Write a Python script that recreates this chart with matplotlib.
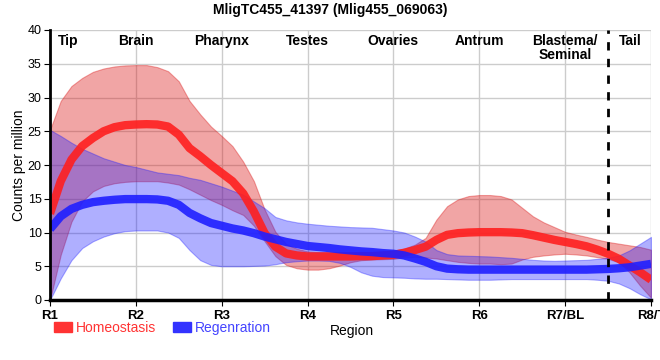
import matplotlib
matplotlib.use('Agg')
import matplotlib.pyplot as plt
from matplotlib.patches import Patch

plt.rcParams['font.family'] = ['Liberation Sans Narrow', 'Liberation Sans', 'DejaVu Sans']

title = 'MligTC455_41397 (Mlig455_069063)'
tick_labels = ['R1', 'R2', 'R3', 'R4', 'R5', 'R6', 'R7/BL', 'R8/T']
regions = ['Tip', 'Brain', 'Pharynx', 'Testes', 'Ovaries', 'Antrum', 'Blastema/\nSeminal', 'Tail']
region_x = [0.09, 1.0, 2.0, 3.0, 4.0, 5.0, 6.0, 6.76]

# sample positions along the body, every 1/8 of a region step
x = [i / 8 for i in range(57)]

# Homeostasis
hom_mean = [12.8, 17.6, 20.8, 22.8, 24.0, 25.0, 25.6, 25.9, 26.0, 26.05, 26.0, 25.7, 24.5, 22.5, 21.3,
            20.0, 18.8, 17.6, 15.8, 13.1, 9.9, 7.9, 6.9, 6.6, 6.45, 6.45, 6.45, 6.45, 6.45, 6.5,
            6.5, 6.6, 6.7, 7.0, 7.4, 7.9, 8.9, 9.65, 9.9, 10.0, 10.05, 10.05, 10.05, 10.0, 9.9,
            9.6, 9.25, 8.9, 8.6, 8.3, 7.95, 7.45, 6.85, 6.1, 5.1, 4.1, 3.0]
hom_upper = [25.2, 29.5, 31.7, 32.9, 33.8, 34.3, 34.6, 34.75, 34.8, 34.8, 34.5, 33.9, 32.4, 29.5, 27.5,
             25.7, 24.3, 22.8, 20.5, 17.6, 13.4, 10.1, 8.3, 7.6, 7.2, 7.1, 7.1, 7.1, 7.1, 7.1,
             7.1, 7.2, 7.3, 7.6, 8.2, 9.2, 11.9, 13.9, 14.9, 15.4, 15.55, 15.55, 15.4, 14.9, 13.65,
             12.4, 11.5, 10.8, 10.1, 9.7, 9.35, 8.95, 8.6, 8.35, 8.1, 7.85, 7.45]
hom_lower = [0.0, 6.7, 11.6, 14.6, 16.1, 16.9, 17.3, 17.5, 17.6, 17.6, 17.6, 17.4, 17.1, 16.4, 15.6,
             14.8, 14.1, 13.3, 12.6, 11.0, 8.7, 6.5, 5.2, 4.7, 4.5, 4.5, 4.7, 5.1, 5.6, 5.9,
             6.0, 6.05, 6.1, 6.3, 6.4, 6.3, 6.15, 5.9, 5.65, 5.5, 5.4, 5.4, 5.3, 5.4, 6.0,
             6.4, 6.6, 6.75, 6.85, 6.75, 6.6, 6.35, 6.1, 5.6, 4.1, 2.1, 0.35]

# Regenration
reg_mean = [10.5, 12.4, 13.5, 14.1, 14.5, 14.7, 14.85, 14.95, 14.95, 14.95, 14.9, 14.7, 14.1, 12.9, 12.1,
            11.4, 11.0, 10.6, 10.3, 9.9, 9.4, 9.0, 8.6, 8.3, 8.0, 7.85, 7.7, 7.5, 7.35, 7.2,
            7.1, 6.95, 6.85, 6.6, 6.15, 5.65, 5.0, 4.65, 4.55, 4.5, 4.5, 4.5, 4.5, 4.5, 4.5,
            4.5, 4.5, 4.5, 4.5, 4.5, 4.5, 4.55, 4.6, 4.7, 4.85, 5.1, 5.35]
reg_upper = [25.2, 24.3, 23.3, 22.4, 21.7, 21.0, 20.5, 20.0, 19.7, 19.3, 18.9, 18.7, 18.5, 18.1, 17.8,
             17.3, 16.8, 16.2, 15.6, 14.6, 13.6, 12.3, 11.8, 11.5, 11.3, 11.15, 11.0, 10.9, 10.8, 10.75,
             10.7, 10.5, 10.3, 10.0, 9.4, 8.65, 7.4, 6.8, 6.6, 6.55, 6.5, 6.45, 6.35, 6.25, 6.1,
             5.95, 5.85, 5.8, 5.85, 5.9, 5.95, 6.1, 6.25, 6.6, 7.35, 8.35, 9.35]
reg_lower = [0.0, 3.2, 5.9, 7.7, 8.7, 9.4, 9.9, 10.2, 10.3, 10.3, 10.3, 10.0, 9.2, 7.4, 5.9,
             5.2, 5.0, 5.0, 5.0, 5.05, 5.1, 5.3, 5.6, 5.75, 5.85, 5.85, 5.8, 5.5, 4.9, 4.1,
             3.6, 3.4, 3.35, 3.3, 3.2, 3.15, 3.15, 3.1, 3.05, 3.0, 3.0, 3.0, 3.05, 3.1, 3.1,
             3.1, 3.1, 3.1, 3.1, 3.1, 3.1, 3.0, 2.85, 2.45, 1.75, 0.85, 0.1]

red = '#ff1f1f'
blue = '#1f1fff'

fig = plt.figure(figsize=(6.6, 3.6), dpi=100)
ax = fig.add_axes([50 / 660, 60 / 360, 601 / 660, 270 / 360])

ax.fill_between(x, hom_lower, hom_upper, color=(0.86, 0.08, 0.08), alpha=0.38, lw=0.8,
                edgecolor=(0.86, 0.08, 0.08, 0.5))
ax.fill_between(x, reg_lower, reg_upper, color=(0.1, 0.1, 1.0), alpha=0.35, lw=0.8,
                edgecolor=(0.1, 0.1, 1.0, 0.5))
ax.plot(x, hom_mean, color=red, lw=6, alpha=0.9, solid_capstyle='butt', solid_joinstyle='round')
ax.plot(x, reg_mean, color=blue, lw=6, alpha=0.9, solid_capstyle='butt', solid_joinstyle='round')

ax.axvline(6.5, color='black', lw=2, ls=(0, (3, 3)))

ax.set_xlim(0, 7)
ax.set_ylim(0, 40)
ax.set_xticks(range(len(tick_labels)))
ax.set_xticklabels(tick_labels, fontweight='bold', fontsize=9.5)
ax.set_yticks(range(0, 41, 5))
ax.tick_params(axis='y', labelsize=9, length=4, pad=2)
ax.tick_params(axis='x', length=4, pad=3)
ax.grid(True, color='#cccccc', lw=1)
ax.set_axisbelow(True)
for s in ['top', 'right']:
    ax.spines[s].set_visible(False)
ax.spines['left'].set_linewidth(2)
ax.spines['bottom'].set_linewidth(2.5)

for rx, name in zip(region_x, regions):
    ax.text(rx, 39.4, name, ha='left' if name == 'Tip' else 'center', va='top',
            fontweight='bold', fontsize=10, linespacing=1.0)

ax.set_ylabel('Counts per million', fontsize=10, labelpad=1)
fig.text(352 / 660, 1 - 331 / 360, 'Region', ha='center', va='center', fontsize=10)
fig.text(0.5, 1 - 10 / 360, title, ha='center', va='center', fontweight='bold', fontsize=10)

handles = [Patch(color='#ff3333'), Patch(color='#3333ff')]
leg = fig.legend(handles, ['Homeostasis', 'Regenration'], loc='center left',
                 bbox_to_anchor=(54 / 660, 1 - 328 / 360), ncol=2, frameon=False,
                 handlelength=1.3, handleheight=0.7, handletextpad=0.3, columnspacing=1.2,
                 fontsize=10, borderaxespad=0, borderpad=0)
for t, c in zip(leg.get_texts(), ['#ff3333', '#4444ff']):
    t.set_color(c)

fig.savefig('out.png', dpi=100)
